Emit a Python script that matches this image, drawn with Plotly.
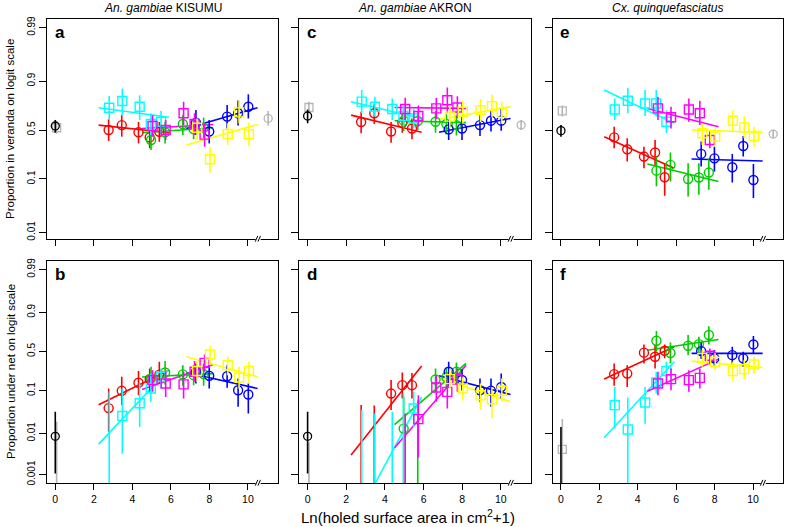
import numpy as np
import plotly.graph_objects as go

# ---------------- series definitions ----------------
SERIES = ["red", "green", "blue", "cyan", "magenta", "yellow"]
COLORS = ["#FF0000", "#00CD00", "#0000FF", "#00FFFF", "#FF00FF", "#FFFF00"]
SYMBOLS = ["circle-open"] * 3 + ["square-open"] * 3
GRAY = "#B5B5B5"

# x = Ln(holed surface area in cm2 + 1) for each hole-size group
x_groups = [
    [2.77, 3.45, 4.32, 4.90, 5.40],   # red
    [4.97, 5.70, 6.62, 7.18, 7.70],   # green
    [7.30, 7.99, 8.92, 9.49, 10.02],  # blue
    [2.80, 3.48, 4.38, 4.96, 5.49],   # cyan
    [5.05, 5.73, 6.66, 7.23, 7.75],   # magenta
    [7.36, 8.03, 8.95, 9.54, 10.05],  # yellow
]
# x-extent of each fitted (logit-linear) line
fit_x = [[2.25, 5.9], [4.5, 8.2], [6.8, 10.5], [2.25, 5.9], [4.5, 8.2], [6.8, 10.5]]
x_ctrl_black = 0.0
x_ctrl_gray = 0.07
x_ctrl_gray_right = 11.05

x_ticks = [0, 2, 4, 6, 8, 10]
y_ticks_top = [0.01, 0.1, 0.5, 0.9, 0.99]
y_ticks_bottom = [0.001, 0.01, 0.1, 0.5, 0.9, 0.99]

col_titles = ["<i>An. gambiae</i> KISUMU", "<i>An. gambiae</i> AKRON", "<i>Cx. quinquefasciatus</i>"]

# ---------------- panel a : veranda, KISUMU ----------------
a_est = [[0.50, 0.555, 0.475, 0.418, 0.48],
         [0.39, 0.475, 0.567, 0.51, 0.525],
         [0.582, 0.483, 0.646, 0.68, 0.739],
         [0.731, 0.786, 0.739, 0.567, 0.591],
         [0.545, 0.50, 0.679, 0.567, 0.448],
         [0.525, 0.212, 0.455, 0.688, 0.453]]
a_lo = [[0.38, 0.426, 0.354, 0.306, 0.37],
        [0.29, 0.354, 0.445, 0.40, 0.41],
        [0.445, 0.354, 0.517, 0.55, 0.627],
        [0.611, 0.661, 0.611, 0.445, 0.463],
        [0.426, 0.39, 0.555, 0.445, 0.321],
        [0.39, 0.129, 0.338, 0.574, 0.33]]
a_hi = [[0.618, 0.66, 0.59, 0.50, 0.59],
        [0.483, 0.59, 0.66, 0.62, 0.635],
        [0.71, 0.61, 0.754, 0.79, 0.832],
        [0.822, 0.865, 0.826, 0.679, 0.70],
        [0.66, 0.61, 0.78, 0.679, 0.574],
        [0.627, 0.321, 0.574, 0.792, 0.582]]
a_fit = [[0.555, 0.47], [0.47, 0.525], [0.517, 0.731], [0.731, 0.639], [0.517, 0.562], [0.338, 0.562]]
a_ctrl_black = [0.545, 0.47, 0.611]
a_ctrl_gray = [0.525, 0.46, 0.59]
a_ctrl_gray_right = [0.627, 0.55, 0.70]

# ---------------- panel c : veranda, AKRON ----------------
c_est = [[0.589, 0.679, 0.483, 0.58, 0.517],
         [0.603, 0.60, 0.591, 0.567, 0.555],
         [0.507, 0.517, 0.555, 0.603, 0.603],
         [0.781, 0.739, 0.719, 0.652, 0.627],
         [0.719, 0.652, 0.725, 0.792, 0.733],
         [0.646, 0.694, 0.709, 0.745, 0.684]]
c_lo = [[0.463, 0.567, 0.361, 0.47, 0.397],
        [0.49, 0.50, 0.47, 0.45, 0.44],
        [0.39, 0.39, 0.434, 0.483, 0.493],
        [0.679, 0.646, 0.611, 0.537, 0.517],
        [0.61, 0.54, 0.62, 0.679, 0.63],
        [0.52, 0.57, 0.59, 0.64, 0.57]]
c_hi = [[0.694, 0.767, 0.59, 0.68, 0.627],
        [0.71, 0.70, 0.70, 0.67, 0.66],
        [0.61, 0.646, 0.66, 0.71, 0.72],
        [0.857, 0.816, 0.805, 0.745, 0.725],
        [0.81, 0.75, 0.81, 0.871, 0.82],
        [0.75, 0.79, 0.80, 0.83, 0.78]]
c_fit = [[0.661, 0.475], [0.603, 0.582], [0.475, 0.627], [0.781, 0.627], [0.733, 0.725], [0.618, 0.739]]
c_ctrl_black = [0.652, 0.574, 0.715]
c_ctrl_gray = [0.733, 0.679, 0.781]
c_ctrl_gray_right = [0.555, 0.50, 0.61]

# ---------------- panel e : veranda, Cx. quinquefasciatus ----------------
e_est = [[0.418, 0.297, 0.233, 0.267, 0.107],
         [0.139, 0.173, 0.10, 0.106, 0.129],
         [0.255, 0.219, 0.158, 0.328, 0.096],
         [0.715, 0.788, 0.767, 0.767, 0.591],
         [0.725, 0.639, 0.715, 0.679, 0.39],
         [0.463, 0.426, 0.603, 0.53, 0.433]]
e_lo = [[0.306, 0.195, 0.153, 0.173, 0.05],
        [0.074, 0.09, 0.048, 0.052, 0.064],
        [0.163, 0.135, 0.087, 0.233, 0.045],
        [0.611, 0.679, 0.652, 0.646, 0.463],
        [0.611, 0.517, 0.591, 0.555, 0.306],
        [0.338, 0.321, 0.483, 0.409, 0.321]]
e_hi = [[0.537, 0.408, 0.321, 0.39, 0.184],
        [0.233, 0.267, 0.184, 0.184, 0.219],
        [0.373, 0.321, 0.255, 0.433, 0.179],
        [0.805, 0.869, 0.857, 0.857, 0.709],
        [0.816, 0.739, 0.805, 0.788, 0.483],
        [0.574, 0.517, 0.709, 0.646, 0.537]]
e_fit = [[0.426, 0.153], [0.179, 0.09], [0.214, 0.199], [0.857, 0.574], [0.725, 0.537], [0.5, 0.475]]
e_ctrl_black = [0.493, 0.426, 0.555]
e_ctrl_gray = [0.703, 0.646, 0.75]
e_ctrl_gray_right = [0.455, 0.41, 0.50]

# ---------------- panel b : under net, KISUMU ----------------
b_est = [[0.04, 0.099, 0.147, 0.175, 0.214],
         [0.179, 0.235, 0.216, 0.209, 0.219],
         [0.242, 0.203, 0.199, 0.102, 0.082],
         [None, 0.026, 0.052, 0.111, 0.195],
         [0.167, 0.142, 0.136, 0.242, 0.345],
         [0.25, 0.458, 0.316, 0.188, 0.25]]
b_lo = [[0.011, 0.047, 0.079, 0.094, 0.142],
        [0.102, 0.136, 0.127, 0.13, 0.127],
        [0.142, 0.111, 0.115, 0.043, 0.030],
        [0.0, 0.0032, 0.0143, 0.056, 0.111],
        [0.094, 0.072, 0.067, 0.154, 0.242],
        [0.154, 0.316, 0.209, 0.111, 0.142]]
b_hi = [[0.111, 0.195, 0.25, 0.277, 0.359],
        [0.297, 0.368, 0.316, 0.32, 0.338],
        [0.338, 0.316, 0.316, 0.179, 0.142],
        [0.094, 0.111, 0.142, 0.224, 0.277],
        [0.259, 0.242, 0.242, 0.368, 0.458],
        [0.368, 0.579, 0.426, 0.297, 0.359]]
b_fit = [[0.048, 0.259], [0.192, 0.224], [0.235, 0.111], [0.0055, 0.267], [0.106, 0.325], [0.426, 0.195]]
b_ctrl_black = [0.0085, 0.00106, 0.033]
b_ctrl_gray = [None, 0.0, 0.019]

# ---------------- panel d : under net, AKRON ----------------
d_est = [[None, None, 0.086, 0.131, 0.131],
         [0.013, None, 0.172, 0.19, 0.242],
         [0.242, 0.168, 0.102, 0.099, 0.12],
         [None, None, None, None, 0.039],
         [None, 0.022, 0.117, 0.094, 0.172],
         [0.175, 0.111, 0.079, 0.064, 0.099]]
d_lo = [[0.0, 0.0, 0.036, 0.067, 0.067],
        [0.0, 0.0, 0.094, 0.11, 0.142],
        [0.131, 0.10, 0.056, 0.043, 0.067],
        [0.0, 0.0, 0.0, 0.0, 0.0143],
        [0.0, 0.0026, 0.056, 0.039, 0.094],
        [0.11, 0.06, 0.036, 0.023, 0.056]]
d_hi = [[0.047, 0.046, 0.167, 0.235, 0.23],
        [0.072, 0.06, 0.277, 0.29, 0.35],
        [0.359, 0.27, 0.179, 0.179, 0.224],
        [0.036, 0.030, 0.033, 0.086, 0.094],
        [0.03, 0.079, 0.209, 0.179, 0.277],
        [0.27, 0.19, 0.142, 0.12, 0.179]]
d_fit = [[0.003, 0.306], [0.0163, 0.338], [0.203, 0.082], [0.00005, 0.072], [0.0045, 0.316], [0.185, 0.056]]
d_ctrl_black = [0.0085, 0.00106, 0.033]
d_ctrl_gray = [None, 0.0, 0.0062]

# ---------------- panel f : under net, Cx. quinquefasciatus ----------------
f_est = [[0.219, 0.224, 0.483, 0.426, 0.51],
         [0.646, 0.478, 0.579, 0.601, 0.715],
         [0.505, 0.404, 0.448, 0.404, 0.597],
         [0.047, 0.0124, 0.054, 0.149, 0.25],
         [0.142, 0.175, 0.167, 0.185, 0.44],
         [0.411, 0.359, 0.25, 0.271, 0.325]]
f_lo = [[0.127, 0.12, 0.338, 0.277, 0.404],
        [0.495, 0.338, 0.448, 0.473, 0.597],
        [0.394, 0.297, 0.338, 0.297, 0.473],
        [0.013, 0.0, 0.017, 0.086, 0.154],
        [0.079, 0.102, 0.094, 0.111, 0.325],
        [0.297, 0.259, 0.159, 0.175, 0.224]]
f_hi = [[0.338, 0.316, 0.597, 0.589, 0.597],
        [0.758, 0.624, 0.715, 0.694, 0.805],
        [0.624, 0.52, 0.566, 0.495, 0.703],
        [0.12, 0.069, 0.12, 0.242, 0.359],
        [0.242, 0.277, 0.259, 0.277, 0.542],
        [0.52, 0.473, 0.359, 0.38, 0.426]]
f_fit = [[0.175, 0.565], [0.517, 0.661], [0.473, 0.473], [0.0078, 0.359], [0.097, 0.394], [0.368, 0.289]]
f_ctrl_black = [None, 0.0, 0.0143]
f_ctrl_gray = [0.0041, 0.0, 0.022]


def logit(values):
    out = []
    for p in values:
        if p is None:
            out.append(None)
        else:
            q = min(max(float(p), 1e-9), 1 - 1e-9)
            out.append(float(np.log(q / (1 - q))))
    return out


# ---------------- layout geometry (pixels) ----------------
W, H = 785, 527
ML, MR, MT, MB = 47, 2, 19, 44
PW = W - ML - MR
PH = H - MT - MB
col_px = [(47, 278), (299.3, 531), (552.7, 783)]
row_px = [(19, 239), (260.7, 483)]


def xdom(c):
    l, r = col_px[c]
    return [(l - ML) / PW, (r - ML) / PW]


def ydom(r):
    t, b = row_px[r]
    return [(H - MB - b) / PH, (H - MB - t) / PH]


X_RANGE = [-0.43, 11.56]
Y_RANGE = [[-4.89, 4.98], [-7.38, 5.09]]

panels = [
    ("a", 0, 0, a_est, a_lo, a_hi, a_fit, a_ctrl_black, a_ctrl_gray, a_ctrl_gray_right),
    ("c", 0, 1, c_est, c_lo, c_hi, c_fit, c_ctrl_black, c_ctrl_gray, c_ctrl_gray_right),
    ("e", 0, 2, e_est, e_lo, e_hi, e_fit, e_ctrl_black, e_ctrl_gray, e_ctrl_gray_right),
    ("b", 1, 0, b_est, b_lo, b_hi, b_fit, b_ctrl_black, b_ctrl_gray, None),
    ("d", 1, 1, d_est, d_lo, d_hi, d_fit, d_ctrl_black, d_ctrl_gray, None),
    ("f", 1, 2, f_est, f_lo, f_hi, f_fit, f_ctrl_black, f_ctrl_gray, None),
]

fig = go.Figure()
layout = dict(
    width=W, height=H,
    margin=dict(l=ML, r=MR, t=MT, b=MB, pad=0),
    paper_bgcolor="white", plot_bgcolor="white",
    showlegend=False,
    font=dict(family="Liberation Sans, Arial, sans-serif", color="black"),
)
annotations = []
shapes = []
LW = 1.6


def add_ctrl(xa, ya, x, vals, color, symbol):
    est, lo, hi = vals
    fig.add_trace(go.Scatter(x=[x, x], y=logit([lo, hi]), mode="lines",
                             line=dict(color=color, width=LW), xaxis=xa, yaxis=ya,
                             hoverinfo="skip"))
    if est is not None:
        fig.add_trace(go.Scatter(x=[x], y=logit([est]), mode="markers",
                                 marker=dict(symbol=symbol, size=8, color=color,
                                             line=dict(width=1.3, color=color)),
                                 xaxis=xa, yaxis=ya, hoverinfo="skip"))


for k, (letter, r, c, est, lo, hi, fit, blk, gry, gry_r) in enumerate(panels):
    n = k + 1
    sfx = "" if n == 1 else str(n)
    xa, ya = "x" + sfx, "y" + sfx

    for i in range(6):
        fig.add_trace(go.Scatter(x=fit_x[i], y=logit(fit[i]), mode="lines",
                                 line=dict(color=COLORS[i], width=LW),
                                 xaxis=xa, yaxis=ya, hoverinfo="skip"))
    for i in range(6):
        bx, by = [], []
        for xv, l_, h_ in zip(x_groups[i], lo[i], hi[i]):
            bx += [xv, xv, None]
            by += logit([l_, h_]) + [None]
        fig.add_trace(go.Scatter(x=bx, y=by, mode="lines",
                                 line=dict(color=COLORS[i], width=LW),
                                 xaxis=xa, yaxis=ya, hoverinfo="skip"))
        fig.add_trace(go.Scatter(x=x_groups[i], y=logit(est[i]), mode="markers",
                                 marker=dict(symbol=SYMBOLS[i], size=9, color=COLORS[i],
                                             line=dict(width=1.4, color=COLORS[i])),
                                 xaxis=xa, yaxis=ya, hoverinfo="skip"))

    add_ctrl(xa, ya, x_ctrl_gray, gry, GRAY, "square-open")
    add_ctrl(xa, ya, x_ctrl_black, blk, "black", "circle-open")
    if gry_r is not None:
        add_ctrl(xa, ya, x_ctrl_gray_right, gry_r, GRAY, "circle-open")

    yt = y_ticks_top if r == 0 else y_ticks_bottom
    layout["xaxis" + sfx] = dict(
        domain=xdom(c), anchor=ya, range=X_RANGE, tickvals=x_ticks,
        ticktext=[str(v) for v in x_ticks], showticklabels=(r == 1),
        showline=True, mirror=True, linecolor="black", linewidth=1,
        ticks="outside", ticklen=6, tickwidth=1, tickcolor="black",
        showgrid=False, zeroline=False, tickfont=dict(size=10.5, color="black"),
    )
    layout["yaxis" + sfx] = dict(
        domain=ydom(r), anchor=xa, range=Y_RANGE[r], tickvals=logit(yt),
        ticktext=[str(v) for v in yt], showticklabels=(c == 0), tickangle=-90,
        showline=True, mirror=True, linecolor="black", linewidth=1,
        ticks="outside", ticklen=7, tickwidth=1, tickcolor="black",
        showgrid=False, zeroline=False, tickfont=dict(size=10, color="black"),
    )
    # panel letter
    annotations.append(dict(text="<b>%s</b>" % letter, xref=xa + " domain", yref=ya + " domain",
                            x=0.025, y=0.99, xanchor="left", yanchor="top", showarrow=False,
                            font=dict(size=17, color="black")))
    # axis break marks on the bottom frame line
    shapes.append(dict(type="line", xref=xa, yref=ya + " domain", x0=10.40, x1=10.66, y0=0, y1=0,
                       line=dict(color="white", width=2)))
    for x0 in (10.38, 10.52):
        shapes.append(dict(type="line", xref=xa, yref=ya + " domain", x0=x0, x1=x0 + 0.13,
                           y0=-0.012, y1=0.014, line=dict(color="black", width=1)))

# column titles
for c, t in enumerate(col_titles):
    d = xdom(c)
    annotations.append(dict(text=t, xref="paper", yref="paper", x=(d[0] + d[1]) / 2,
                            y=(H - MB - 8) / PH, xanchor="center", yanchor="middle",
                            showarrow=False, font=dict(size=12, color="black")))
# y-axis titles
annotations.append(dict(text="Proportion in veranda on logit scale", xref="paper", yref="paper",
                        x=(10 - ML) / PW, y=(H - MB - 129) / PH, textangle=-90,
                        xanchor="center", yanchor="middle", showarrow=False,
                        font=dict(size=11.5, color="black")))
annotations.append(dict(text="Proportion under net on logit scale", xref="paper", yref="paper",
                        x=(11 - ML) / PW, y=(H - MB - 372) / PH, textangle=-90,
                        xanchor="center", yanchor="middle", showarrow=False,
                        font=dict(size=11.5, color="black")))
# x-axis title
annotations.append(dict(text="Ln(holed surface area in cm<sup>2</sup>+1)", xref="paper", yref="paper",
                        x=(408 - ML) / PW, y=(H - MB - 516) / PH,
                        xanchor="center", yanchor="middle", showarrow=False,
                        font=dict(size=15, color="black")))

layout["annotations"] = annotations
layout["shapes"] = shapes
fig.update_layout(**layout)
fig.write_html("out.html", config={"displayModeBar": False},
               post_script="document.body.style.margin='0';document.body.style.overflow='hidden';")
